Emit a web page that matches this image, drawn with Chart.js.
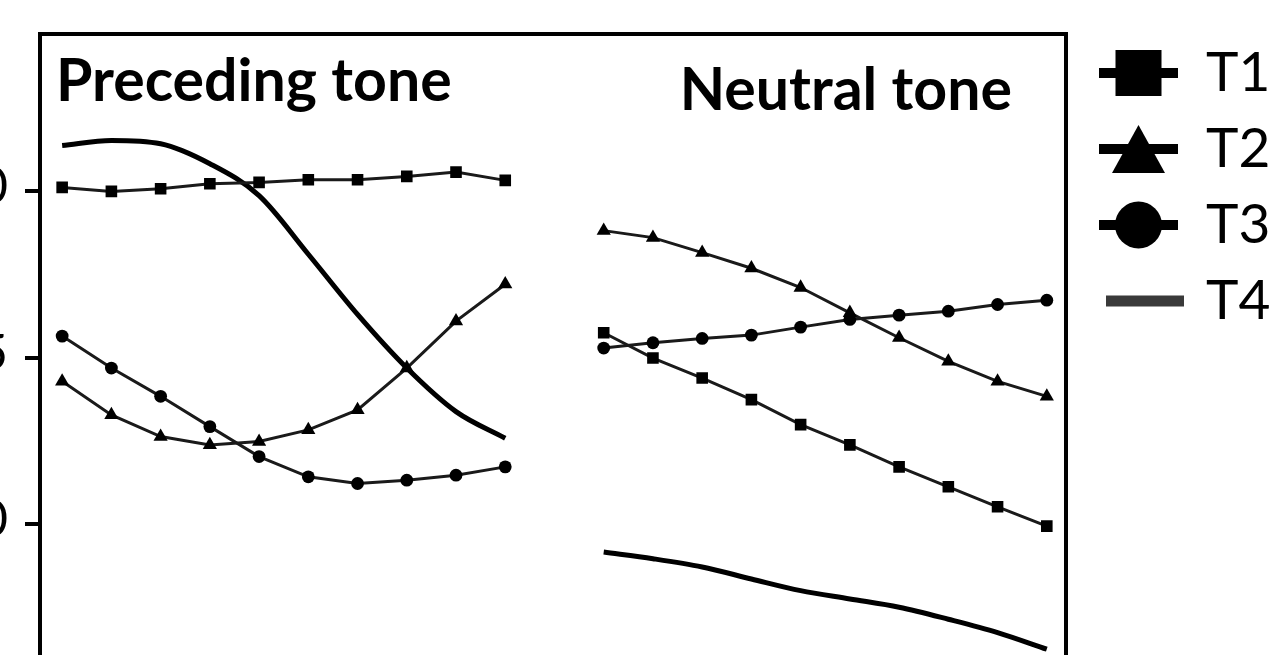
<!DOCTYPE html>
<html>
<head>
<meta charset="utf-8">
<script src="https://cdn.jsdelivr.net/npm/chart.js@4.4.1/dist/chart.umd.min.js"></script>
<style>
  html, body { margin: 0; padding: 0; background: #fff; overflow: hidden; width: 1273px; height: 655px; }
  #wrap { position: absolute; left: -60px; top: 0; }
</style>
</head>
<body>
<div id="wrap"><canvas id="c" width="1346" height="688"></canvas></div>
<script>
// Tone contours, ten normalised time points per panel
const seriesNames = ['T1', 'T2', 'T3', 'T4'];
const timeSteps = [1, 2, 3, 4, 5, 6, 7, 8, 9, 10];
const panelTitles = ['Preceding tone', 'Neutral tone'];
const yTickValues = [0, 5, 10];
const yTickLabels = ['0', '5', '10'];

const precedingT1 = [10.12, 10.00, 10.08, 10.23, 10.27, 10.35, 10.35, 10.45, 10.58, 10.33];
const precedingT2 = [4.29, 3.28, 2.63, 2.38, 2.48, 2.83, 3.43, 4.69, 6.10, 7.21];
const precedingT3 = [5.65, 4.69, 3.84, 2.93, 2.03, 1.42, 1.22, 1.32, 1.47, 1.72];
const precedingT4 = [11.38, 11.53, 11.43, 10.83, 9.87, 8.11, 6.30, 4.69, 3.38, 2.58];

const neutralT1 = [5.75, 4.99, 4.39, 3.74, 2.99, 2.38, 1.72, 1.12, 0.52, -0.06];
const neutralT2 = [8.82, 8.61, 8.16, 7.69, 7.11, 6.35, 5.60, 4.89, 4.29, 3.84];
const neutralT3 = [5.29, 5.45, 5.58, 5.68, 5.92, 6.15, 6.28, 6.40, 6.60, 6.73];
const neutralT4 = [-0.84, -1.04, -1.29, -1.65, -2.00, -2.25, -2.50, -2.86, -3.26, -3.76];

const FONT = 'Lato';

// both panels share one x axis; the neutral panel starts one empty slot after the preceding one
function panelSeries(pre, neu) {
  const n = timeSteps.length;
  const pts = timeSteps.map((t, i) => ({ x: i, y: pre[i] }));
  pts.push({ x: n, y: null });
  timeSteps.forEach((t, i) => pts.push({ x: n + 1 + i, y: neu[i] }));
  return pts;
}

const markerStyles = ['rect', 'triangle', 'circle', 'line'];
const markerRadius = [8.2, 8.2, 6.4, 0];

const seriesData = [
  panelSeries(precedingT1, neutralT1),
  panelSeries(precedingT2, neutralT2),
  panelSeries(precedingT3, neutralT3),
  panelSeries(precedingT4, neutralT4)
];

const datasets = seriesNames.map((name, i) => {
  const isLine = markerStyles[i] === 'line';
  return {
    label: name,
    data: seriesData[i],
    borderColor: isLine ? '#000' : '#1a1a1a',
    borderWidth: isLine ? 5 : 3,
    backgroundColor: '#000',
    pointStyle: isLine ? false : markerStyles[i],
    pointRadius: markerRadius[i],
    pointBorderWidth: 0,
    pointBackgroundColor: '#000',
    tension: 0,
    cubicInterpolationMode: isLine ? 'monotone' : 'default',
    spanGaps: false,
    fill: false
  };
});

// legend key: a short line with the series marker drawn large
function drawKeySymbol(ctx, kind, cx, cy) {
  ctx.fillStyle = '#000';
  if (kind === 'line') {
    ctx.fillStyle = '#3a3a3a';
    ctx.fillRect(cx + 6.5 - 39, cy - 5.5, 78, 11);
    return;
  }
  ctx.fillRect(cx - 39.5, cy - 5, 79, 10);
  ctx.beginPath();
  if (kind === 'rect') {
    ctx.rect(cx - 23, cy - 23, 46, 46);
  } else if (kind === 'triangle') {
    ctx.moveTo(cx, cy - 24);
    ctx.lineTo(cx + 26.5, cy + 24);
    ctx.lineTo(cx - 26.5, cy + 24);
    ctx.closePath();
  } else {
    ctx.arc(cx, cy, 23.5, 0, Math.PI * 2);
  }
  ctx.fill();
}

// frame around the plotting area, the two panel headings and the key at the right
const panelFrame = {
  id: 'panelFrame',
  afterDraw(chart) {
    const { ctx, chartArea: a } = chart;
    ctx.save();
    ctx.strokeStyle = '#000';
    ctx.lineWidth = 4;
    ctx.strokeRect(a.left, a.top, a.right - a.left, a.bottom - a.top);

    ctx.fillStyle = '#000';
    ctx.font = 'bold 59px ' + FONT;
    ctx.textBaseline = 'alphabetic';
    ctx.textAlign = 'left';
    ctx.fillText(panelTitles[0], a.left + 16, a.top + 67);
    ctx.textAlign = 'right';
    ctx.fillText(panelTitles[1], a.right - 54, a.top + 76);

    seriesNames.forEach((name, i) => {
      const cy = a.top + 39 + 76 * i;
      drawKeySymbol(ctx, markerStyles[i], a.right + 72.5, cy);
      ctx.fillStyle = '#000';
      ctx.font = '55px ' + FONT;
      ctx.textAlign = 'left';
      ctx.textBaseline = 'alphabetic';
      ctx.fillText(name, a.right + 140, cy + 18);
    });
    ctx.restore();
  }
};

new Chart(document.getElementById('c'), {
  type: 'line',
  data: { datasets },
  plugins: [panelFrame],
  options: {
    responsive: false,
    animation: false,
    layout: { padding: { top: 24, left: 0, right: 220, bottom: 0 } },
    plugins: {
      tooltip: { enabled: false },
      legend: { display: false }
    },
    scales: {
      x: {
        type: 'linear',
        position: 'top',
        min: -0.45,
        max: 20.39,
        ticks: { display: false },
        grid: { display: false },
        border: { display: false },
        afterFit(scale) {
          scale.height = 10;
          scale.paddingLeft = 0;
          scale.paddingRight = 0;
        }
      },
      y: {
        type: 'linear',
        min: -4.68,
        max: 14.73,
        afterBuildTicks(scale) { scale.ticks = yTickValues.map(v => ({ value: v })); },
        afterFit(scale) {
          scale.width = 100;
          scale.paddingTop = 0;
          scale.paddingBottom = 0;
        },
        ticks: {
          padding: 17,
          labelOffset: -4,
          color: '#000',
          font: { family: FONT, size: 50 },
          callback(value) {
            const k = yTickValues.indexOf(value);
            return k >= 0 ? yTickLabels[k] : '';
          }
        },
        grid: {
          display: true,
          drawOnChartArea: false,
          drawTicks: true,
          tickLength: 15,
          lineWidth: 4,
          color: '#000'
        },
        border: { display: false }
      }
    }
  }
});
</script>
</body>
</html>
